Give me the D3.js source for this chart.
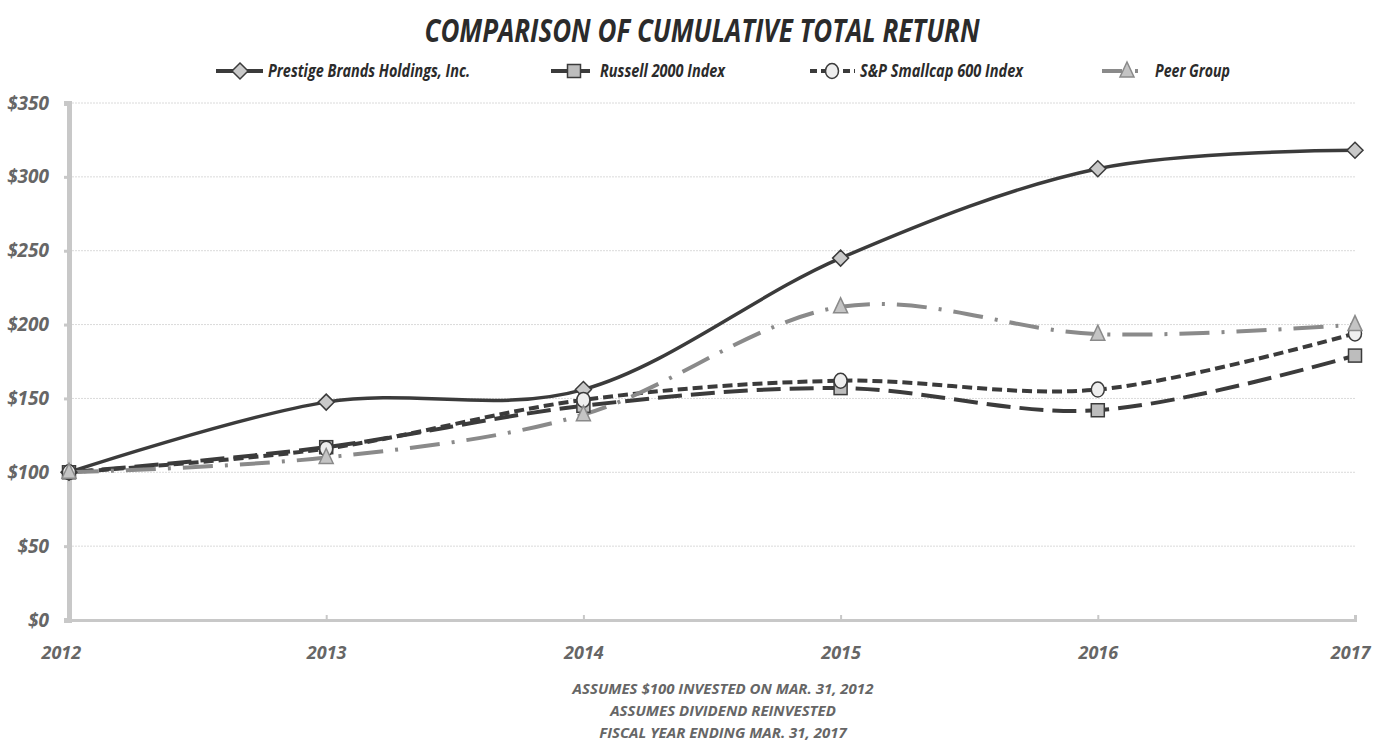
<!DOCTYPE html>
<html>
<head>
<meta charset="utf-8">
<script src="https://cdn.jsdelivr.net/npm/d3@7"></script>
<style>
body { margin: 0; background: #fff; }
text { font-family: "Open Sans", sans-serif; font-style: italic; font-weight: bold; }
</style>
</head>
<body>
<div id="chart"></div>
<script>
var years = ['2012', '2013', '2014', '2015', '2016', '2017'];
var prestige = [100, 147.5, 156, 245, 305.5, 318];
var russell = [100, 117, 145, 157, 142, 179];
var smallcap = [100, 116, 149, 162, 156, 194];
var peer = [100, 110, 139, 212, 193.5, 200];
var yTicks = [0, 50, 100, 150, 200, 250, 300, 350];
var footnotes = [
	'ASSUMES $100 INVESTED ON MAR. 31, 2012',
	'ASSUMES DIVIDEND REINVESTED',
	'FISCAL YEAR ENDING MAR. 31, 2017'
];

var series = [
	{ name: 'Prestige Brands Holdings, Inc.', values: prestige, color: '#3b3b3b', dash: null, ldash: null, marker: 'diamond', fill: '#c9c9c9', mstroke: '#3b3b3b', lx1: 216, lx2: 263, mx: 240, tx: 268, tw: 202 },
	{ name: 'Russell 2000 Index', values: russell, color: '#3b3b3b', dash: '24,9', ldash: '22,6', marker: 'square', fill: '#bdbdbd', mstroke: '#3b3b3b', lx1: 551, lx2: 590, mx: 574, tx: 600, tw: 125 },
	{ name: 'S&P Smallcap 600 Index', values: smallcap, color: '#3b3b3b', dash: '10,5', ldash: '7,4', marker: 'circle', fill: '#eeeeee', mstroke: '#3b3b3b', lx1: 810, lx2: 855, mx: 832, tx: 860, tw: 163 },
	{ name: 'Peer Group', values: peer, color: '#8a8a8a', dash: '30,12,3,12', ldash: '20,13,3,20', marker: 'triangle', fill: '#c4c4c4', mstroke: '#8a8a8a', lx1: 1102, lx2: 1144, mx: 1127, tx: 1155, tw: 75 }
];

var W = 1374, H = 744;
var margin = { top: 103, right: 19, bottom: 124, left: 69 };

var svg = d3.select('#chart').append('svg')
	.attr('width', W)
	.attr('height', H);

var x = d3.scalePoint().domain(years).range([margin.left, W - margin.right]);
var y = d3.scaleLinear().domain([0, 350]).range([H - margin.bottom, margin.top]);

// Title (condensed look via textLength)
svg.append('text')
	.attr('x', 702)
	.attr('y', 42)
	.attr('text-anchor', 'middle')
	.attr('fill', '#2b2b2b')
	.attr('textLength', 555)
	.attr('lengthAdjust', 'spacingAndGlyphs')
	.style('font-size', '33px')
	.text('COMPARISON OF CUMULATIVE TOTAL RETURN');

// Gridlines
svg.append('g')
	.selectAll('line')
	.data(yTicks.filter(d => d > 0))
	.enter()
	.append('line')
	.attr('x1', margin.left)
	.attr('x2', W - margin.right)
	.attr('y1', d => y(d))
	.attr('y2', d => y(d))
	.attr('stroke', '#dadada')
	.attr('stroke-width', 1)
	.attr('stroke-dasharray', '2,1');

// Y axis
var yAxis = svg.append('g')
	.attr('transform', 'translate(' + margin.left + ',0)')
	.call(d3.axisLeft(y).tickValues(yTicks).tickSize(5).tickPadding(15).tickFormat(d => '$' + d));
yAxis.select('.domain').attr('stroke', '#c8c8c8').attr('stroke-width', 5);
yAxis.selectAll('.tick line').attr('stroke', '#c8c8c8').attr('stroke-width', 3);
yAxis.selectAll('.tick text')
	.attr('fill', '#666')
	.style('font-size', '19px');

// X axis
var xAxis = svg.append('g')
	.attr('transform', 'translate(0,' + (H - margin.bottom) + ')')
	.call(d3.axisBottom(x).tickSize(-5).tickPadding(26));
xAxis.select('.domain').attr('stroke', '#c8c8c8').attr('stroke-width', 3);
xAxis.selectAll('.tick line').attr('stroke', '#c8c8c8').attr('stroke-width', 2);
xAxis.selectAll('.tick text')
	.attr('fill', '#666')
	.style('font-size', '18px')
	.attr('text-anchor', (d, i) => i == 0 ? 'start' : (i == years.length - 1 ? 'end' : 'middle'))
	.attr('dx', (d, i) => i == 0 ? '-28px' : (i == years.length - 1 ? '15px' : '0'));

// Lines
var line = d3.line()
	.x((d, i) => x(years[i]))
	.y(d => y(d))
	.curve(d3.curveCatmullRom.alpha(0));

function drawMarker(g, type, cx, cy) {
	if (type == 'diamond') {
		return g.append('path')
			.attr('d', 'M' + cx + ',' + (cy - 8) + 'L' + (cx + 8) + ',' + cy + 'L' + cx + ',' + (cy + 8) + 'L' + (cx - 8) + ',' + cy + 'Z');
	}
	if (type == 'square') {
		return g.append('rect')
			.attr('x', cx - 6.5).attr('y', cy - 6.5).attr('width', 13).attr('height', 13);
	}
	if (type == 'circle') {
		return g.append('ellipse')
			.attr('cx', cx).attr('cy', cy).attr('rx', 6.5).attr('ry', 7.5);
	}
	return g.append('path')
		.attr('d', 'M' + cx + ',' + (cy - 9) + 'L' + (cx + 7) + ',' + (cy + 6) + 'L' + (cx - 7) + ',' + (cy + 6) + 'Z');
}

var plot = svg.append('g');
series.forEach(s => {
	plot.append('path')
		.datum(s.values)
		.attr('d', line)
		.attr('fill', 'none')
		.attr('stroke', s.color)
		.attr('stroke-width', s.dash ? 4 : 3.5)
		.attr('stroke-dasharray', s.dash);
});

series.forEach(s => {
	var g = plot.append('g');
	s.values.forEach((v, i) => {
		drawMarker(g, s.marker, x(years[i]), y(v))
			.attr('fill', s.fill)
			.attr('stroke', s.mstroke)
			.attr('stroke-width', 1.5);
	});
});

// Legend
var legend = svg.append('g');
series.forEach(s => {
	var g = legend.append('g');
	var ly = 71;
	g.append('line')
		.attr('x1', s.lx1).attr('x2', s.lx2)
		.attr('y1', ly).attr('y2', ly)
		.attr('stroke', s.color)
		.attr('stroke-width', 4)
		.attr('stroke-dasharray', s.ldash);
	drawMarker(g, s.marker, s.mx, ly)
		.attr('fill', s.fill)
		.attr('stroke', s.mstroke)
		.attr('stroke-width', 1.5);
	g.append('text')
		.attr('x', s.tx)
		.attr('y', ly + 6)
		.attr('fill', '#2b2b2b')
		.attr('textLength', s.tw)
		.attr('lengthAdjust', 'spacingAndGlyphs')
		.style('font-size', '18px')
		.text(s.name);
});

// Footnotes
svg.append('g')
	.selectAll('text')
	.data(footnotes)
	.enter()
	.append('text')
	.attr('x', 723)
	.attr('y', (d, i) => 694 + i * 22)
	.attr('text-anchor', 'middle')
	.attr('fill', '#666')
	.style('font-size', '15px')
	.text(d => d);
</script>
</body>
</html>
